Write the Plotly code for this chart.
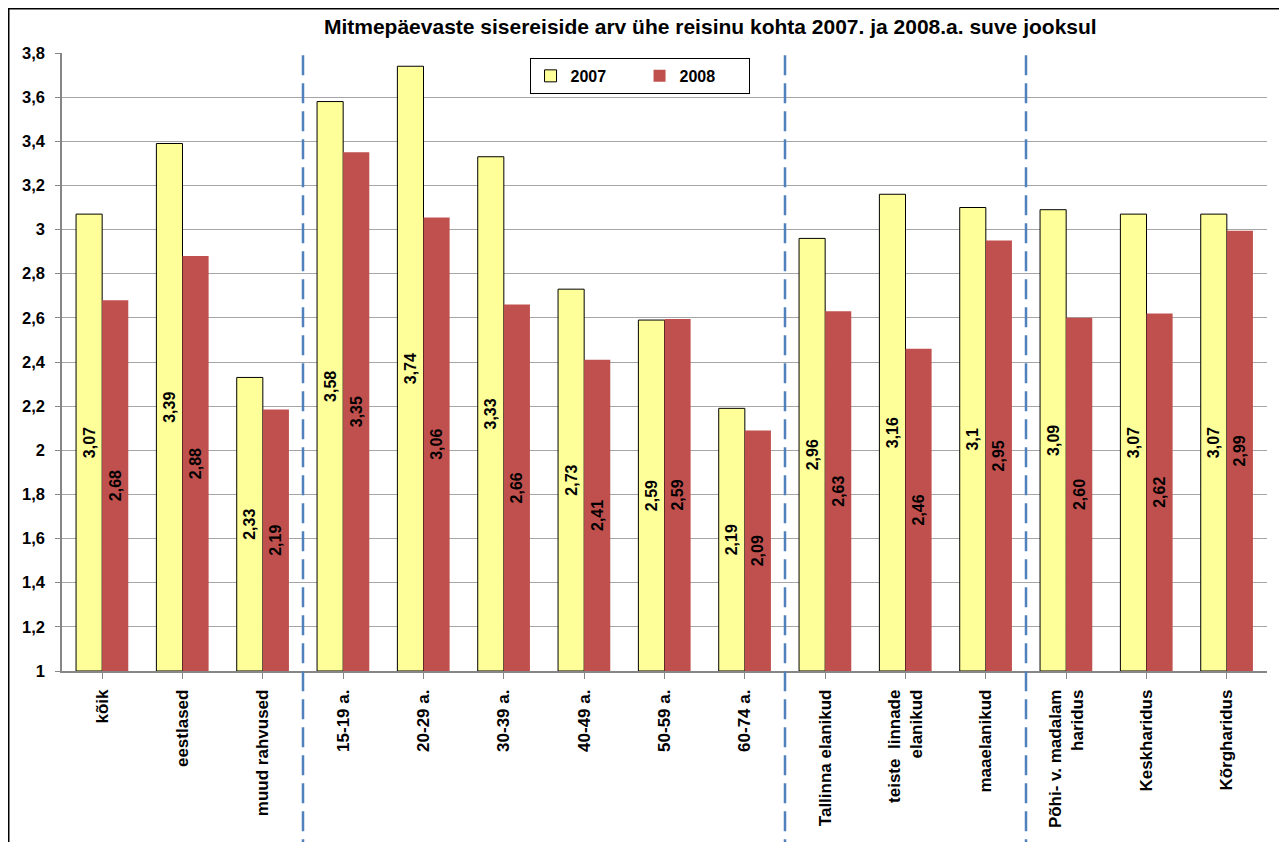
import plotly.graph_objects as go

categories = ["kõik", "eestlased", "muud rahvused", "15-19 a.", "20-29 a.", "30-39 a.",
              "40-49 a.", "50-59 a.", "60-74 a.", "Tallinna elanikud",
              "teiste  linnade<br>elanikud", "maaelanikud", "Põhi- v. madalam<br>haridus",
              "Keskharidus", "Kõrgharidus"]
v2007 = [3.07, 3.39, 2.33, 3.58, 3.74, 3.33, 2.73, 2.59, 2.19, 2.96, 3.16, 3.10, 3.09, 3.07, 3.07]
v2008 = [2.68, 2.88, 2.185, 3.35, 3.055, 2.66, 2.41, 2.595, 2.09, 2.63, 2.46, 2.95, 2.60, 2.62, 2.995]
lab2007 = ["3,07", "3,39", "2,33", "3,58", "3,74", "3,33", "2,73", "2,59", "2,19", "2,96",
           "3,16", "3,1", "3,09", "3,07", "3,07"]
lab2008 = ["2,68", "2,88", "2,19", "3,35", "3,06", "2,66", "2,41", "2,59", "2,09", "2,63",
           "2,46", "2,95", "2,60", "2,62", "2,99"]
series_names = ["2007", "2008"]
group_dividers = [2.5, 8.5, 11.5]
base_value = 1.0

FONT = "Liberation Sans, Arial, sans-serif"
xs = list(range(len(categories)))

# page body has an 8px margin: figure is sized/offset to keep the plot in place
W, H = 1279, 834
ML, MT, MR, MB = 54, 45, 20, 171
PW = W - ML - MR
PH = H - MT - MB

fig = go.Figure()
fig.add_trace(go.Bar(
    x=xs, y=[v - base_value for v in v2007], base=base_value, name=series_names[0],
    marker=dict(color="#FFFF99", line=dict(color="#000000", width=1)),
    text=lab2007, textposition="inside", insidetextanchor="middle", textangle=-90,
    textfont=dict(family=FONT, size=16, color="#000000", weight="bold"),
    constraintext="none",
))
fig.add_trace(go.Bar(
    x=xs, y=[v - base_value for v in v2008], base=base_value, name=series_names[1],
    marker=dict(color="#C0504D", line=dict(width=0)),
    text=lab2008, textposition="inside", insidetextanchor="middle", textangle=-90,
    textfont=dict(family=FONT, size=16, color="#000000", weight="bold"),
    constraintext="none",
))

shapes = []
for d in group_dividers:
    shapes.append(dict(type="line", xref="x", yref="paper", x0=d, x1=d, y0=-0.35, y1=1,
                       line=dict(color="#4F81BD", width=2.5, dash="20px,8px")))
shapes.append(dict(type="rect", xref="paper", yref="paper",
                   x0=(0.75 - ML) / PW, x1=(1277 - ML) / PW,
                   y0=-0.4, y1=(MT + PH - 0.75) / PH,
                   line=dict(color="#000000", width=1.5), fillcolor="rgba(0,0,0,0)"))

fig.update_layout(
    width=W, height=H,
    margin=dict(l=ML, r=MR, t=MT, b=MB),
    paper_bgcolor="white", plot_bgcolor="white",
    separators=", ",
    barmode="group", bargap=0.35, bargroupgap=0,
    font=dict(family=FONT, size=16, color="#000000", weight="bold"),
    title=dict(text="Mitmepäevaste sisereiside arv ühe reisinu kohta 2007. ja 2008.a. suve jooksul",
               x=0.538, xref="paper", xanchor="center", y=1 - 19 / H, yanchor="middle",
               font=dict(family=FONT, size=21, color="#000000", weight="bold")),
    legend=dict(orientation="h", x=0.388, y=0.992, xanchor="left", yanchor="top",
                bordercolor="#000000", borderwidth=1, bgcolor="white",
                font=dict(family=FONT, size=16, color="#000000", weight="bold"),
                itemwidth=30, entrywidth=64),
    shapes=shapes,
    showlegend=True,
)
fig.update_xaxes(
    tickmode="array", tickvals=xs, ticktext=categories, tickangle=-90,
    range=[-0.5, len(categories) - 0.5],
    showline=True, linecolor="#868686", linewidth=1.5,
    ticks="outside", tickson="boundaries", ticklen=6, tickcolor="#868686",
    showgrid=False, ticklabelstandoff=4,
    tickfont=dict(family=FONT, size=17, color="#000000", weight="bold"),
)
fig.update_yaxes(
    range=[1, 3.8], dtick=0.2, tick0=1,
    showline=True, linecolor="#868686", linewidth=1.5,
    ticks="outside", ticklen=5, tickcolor="#868686",
    showgrid=True, gridcolor="#A6A6A6", gridwidth=1.2,
    zeroline=False, ticklabelstandoff=7,
    tickfont=dict(family=FONT, size=16.5, color="#000000", weight="bold"),
)

fig.write_html("out.html")
